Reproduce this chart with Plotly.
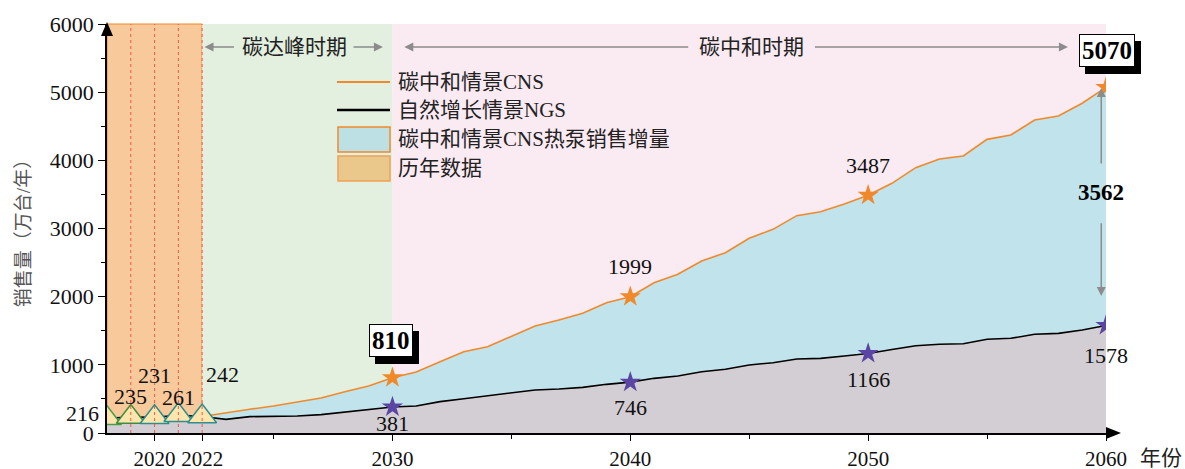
import plotly.graph_objects as go

# 历年数据 (万台/年)
hist_years = [2018, 2019, 2020, 2021, 2022]
hist_sales = [216, 235, 231, 261, 242]

# 自然增长情景 NGS, 2018-2060
ngs_years = list(range(2018, 2061))
ngs_sales = [216, 235, 231, 261, 242, 200, 240, 240, 249, 269,
             303, 337, 381, 396, 460, 503, 543, 591, 631, 645,
             670, 714, 746, 802, 836, 899, 934, 998, 1031, 1085,
             1095, 1130, 1166, 1225, 1281, 1301, 1310, 1375, 1389, 1448,
             1462, 1511, 1578]

# 碳中和情景 CNS, 2022-2060
cns_years = list(range(2022, 2061))
cns_sales = [242, 300, 348, 396, 460, 513, 606, 690,
             810, 895, 1046, 1193, 1266, 1423, 1570, 1658, 1756, 1911,
             1999, 2205, 2328, 2523, 2645, 2856, 2988, 3188, 3246, 3359,
             3487, 3663, 3892, 4020, 4064, 4308, 4372, 4592, 4650, 4837,
             5070]

key_years = [2030, 2040, 2050, 2060]
gap_label = "3562"

ORANGE = "#F0892A"
PURPLE = "#5B45A3"
FONT = "Liberation Serif, Noto Sans CJK SC"

cns_map = dict(zip(cns_years, cns_sales))
ngs_map = dict(zip(ngs_years, ngs_sales))
cns_key = [cns_map[y] for y in key_years]
ngs_key = [ngs_map[y] for y in key_years]
ngs_tail_years = [y for y in ngs_years if y >= cns_years[0]]
ngs_tail = [ngs_map[y] for y in ngs_tail_years]

fig = go.Figure()

# gray area under NGS
fig.add_trace(go.Scatter(x=ngs_years, y=ngs_sales, mode="lines", fill="tozeroy",
                         fillcolor="#D3CED3", line=dict(width=0), hoverinfo="skip"))
# helper for blue band
fig.add_trace(go.Scatter(x=ngs_tail_years, y=ngs_tail, mode="lines",
                         line=dict(width=0), hoverinfo="skip"))
fig.add_trace(go.Scatter(x=cns_years, y=cns_sales, mode="lines", fill="tonexty",
                         fillcolor="#C1E4EC", line=dict(color=ORANGE, width=1.6),
                         name="碳中和情景CNS"))
fig.add_trace(go.Scatter(x=ngs_years, y=ngs_sales, mode="lines",
                         line=dict(color="black", width=1.6), name="自然增长情景NGS"))
# history triangles
fig.add_trace(go.Scatter(x=hist_years, y=hist_sales, mode="markers",
                         marker=dict(symbol="triangle-up", size=25, color="#FCE6AE",
                                     line=dict(width=1.5, color=["#4A9A4A", "#3E8E3E", "#2E8E8E",
                                                                 "#2E8E8E", "#2E8E8E"]))))
fig.add_trace(go.Scatter(x=key_years, y=cns_key, mode="markers",
                         marker=dict(symbol="star", size=16, color=ORANGE, line=dict(width=0))))
fig.add_trace(go.Scatter(x=key_years, y=ngs_key, mode="markers",
                         marker=dict(symbol="star", size=16, color=PURPLE, line=dict(width=0))))

# background periods
shapes = [
    dict(type="rect", xref="x", yref="paper", x0=2018, x1=2022, y0=0, y1=1,
         fillcolor="#F8C99B", line=dict(color=ORANGE, width=1), layer="below"),
    dict(type="rect", xref="x", yref="paper", x0=2022, x1=2030, y0=0, y1=1,
         fillcolor="#E3EFDF", line=dict(width=0), layer="below"),
    dict(type="rect", xref="x", yref="paper", x0=2030, x1=2060, y0=0, y1=1,
         fillcolor="#FAEAF2", line=dict(width=0), layer="below"),
]
for yr in [2019, 2020, 2021, 2022]:
    shapes.append(dict(type="line", xref="x", yref="paper", x0=yr, x1=yr, y0=0, y1=1,
                       line=dict(color="#EE5A4A", width=1, dash="dot")))

# axis arrow heads (pixel -> paper)
W, H = 999.0, 409.0
def px(x):
    return (x - 107) / W
def py(y):
    return (433 - y) / H

shapes.append(dict(type="path", xref="paper", yref="paper", fillcolor="black",
                   line=dict(width=0),
                   path=f"M {px(101)} {py(36)} L {px(113)} {py(36)} L {px(107)} {py(22)} Z"))
shapes.append(dict(type="path", xref="paper", yref="paper", fillcolor="black",
                   line=dict(width=0),
                   path=f"M {px(1106)} {py(427)} L {px(1106)} {py(439)} L {px(1121)} {py(433)} Z"))

# legend drawn by hand
shapes += [
    dict(type="line", xref="paper", yref="paper", x0=px(337), x1=px(390), y0=py(82), y1=py(82),
         line=dict(color=ORANGE, width=2)),
    dict(type="line", xref="paper", yref="paper", x0=px(337), x1=px(390), y0=py(110), y1=py(110),
         line=dict(color="black", width=2.5)),
    dict(type="rect", xref="paper", yref="paper", x0=px(338), x1=px(390), y0=py(152), y1=py(127),
         fillcolor="#BCE0E3", line=dict(color=ORANGE, width=1.5)),
    dict(type="rect", xref="paper", yref="paper", x0=px(338), x1=px(390), y0=py(181), y1=py(156),
         fillcolor="#EAC78A", line=dict(color="#EFA155", width=1.5)),
]
legend_text = ["碳中和情景CNS", "自然增长情景NGS", "碳中和情景CNS热泵销售增量", "历年数据"]
legend_y = [82, 110, 139, 168]

ann = []
for t, yy in zip(legend_text, legend_y):
    ann.append(dict(xref="paper", yref="paper", x=px(396), y=py(yy), text=t, showarrow=False,
                    xanchor="left", yanchor="middle", font=dict(size=21, color="#222")))

# history value labels
hist_shift = [(-25, 5), (0, 20), (0, 42), (0, 18), (20, 42)]
for x, y, (dx, dy) in zip(hist_years, hist_sales, hist_shift):
    ann.append(dict(x=x, y=y, text=str(y), showarrow=False, xshift=dx, yshift=dy,
                    font=dict(size=22, color="#111")))

# key labels
for x, y in zip(key_years[1:3], cns_key[1:3]):
    ann.append(dict(x=x, y=y, text=str(y), showarrow=False, yshift=30,
                    font=dict(size=22, color="#111")))
for x, y, dy in zip(key_years, ngs_key, [-16, -25, -26, -30]):
    ann.append(dict(x=x, y=y, text=str(y), showarrow=False, yshift=dy,
                    font=dict(size=22, color="#111")))

# boxed labels with shadow
for x, y, dx in [(key_years[0], cns_key[0], -1), (key_years[-1], cns_key[-1], 1)]:
    ann.append(dict(x=x, y=y, text=f"<b>{y}</b>", showarrow=False, xshift=dx + 6, yshift=37 - 7,
                    font=dict(size=25, color="black"), bgcolor="black", bordercolor="black",
                    borderwidth=1, borderpad=2))
    ann.append(dict(x=x, y=y, text=f"<b>{y}</b>", showarrow=False, xshift=dx, yshift=37,
                    font=dict(size=25, color="black"), bgcolor="white", bordercolor="black",
                    borderwidth=1, borderpad=2))

# gap annotation
ann.append(dict(x=2059.8, y=3535, text=f"<b>{gap_label}</b>", showarrow=False,
                font=dict(size=23, color="black")))
for head, tail in [(5060, 3930), (2010, 3100)]:
    ann.append(dict(x=2059.8, y=head, ax=2059.8, ay=tail, xref="x", yref="y", axref="x", ayref="y",
                    text="", showarrow=True, arrowhead=2, arrowsize=1.2, arrowwidth=1.5,
                    arrowcolor="#8C8C8C"))

# period annotations
per_y = py(47)
for head, tail in [(2022.1, 2023.4), (2029.6, 2028.3), (2030.5, 2042.5), (2058.4, 2047.7)]:
    ann.append(dict(x=head, y=per_y, ax=tail, ay=0, xref="x", yref="paper", axref="x", ayref="pixel",
                    text="", showarrow=True, arrowhead=2, arrowsize=1.2, arrowwidth=1.5,
                    arrowcolor="#8C8C8C"))
ann.append(dict(x=2025.9, y=per_y, yref="paper", text="碳达峰时期", showarrow=False,
                yanchor="middle", font=dict(size=21, color="#222")))
ann.append(dict(x=2045.1, y=per_y, yref="paper", text="碳中和时期", showarrow=False,
                yanchor="middle", font=dict(size=21, color="#222")))
ann.append(dict(xref="paper", yref="paper", x=px(1161), y=py(458), text="年份", showarrow=False,
                xanchor="center", yanchor="middle", font=dict(size=21, color="#222")))

fig.update_layout(
    width=1185, height=469, autosize=False,
    margin=dict(l=107, r=79, t=24, b=36),
    plot_bgcolor="white", paper_bgcolor="white",
    font=dict(family=FONT, size=22, color="#111"),
    showlegend=False,
    shapes=shapes, annotations=ann,
    xaxis=dict(range=[2018, 2060], tickvals=[2020, 2022, 2030, 2040, 2050, 2060],
               ticks="outside", ticklen=6, tickwidth=1.2, tickcolor="black", automargin=False,
               showline=True, linecolor="black", linewidth=1.5, showgrid=False, zeroline=False,
               minor=dict(tickvals=[2025, 2035, 2045, 2055], ticks="outside", ticklen=4,
                          tickcolor="black"),
               tickfont=dict(size=21)),
    yaxis=dict(range=[0, 6000], dtick=1000, ticks="outside", ticklen=7, tickwidth=1.2,
               tickcolor="black", showline=True, linecolor="black", linewidth=1.5,
               showgrid=False, zeroline=False, automargin=False,
               minor=dict(dtick=500, ticks="outside", ticklen=4, tickcolor="black"),
               tickfont=dict(size=22),
               title=dict(text="销售量（万台/年）", font=dict(size=19, color="#555"), standoff=14)),
)

# drop the page's default body margin so the figure sits at the window origin
fig.write_html("out.html", config={"displayModeBar": False},
               post_script="document.body.style.margin = '0';")
